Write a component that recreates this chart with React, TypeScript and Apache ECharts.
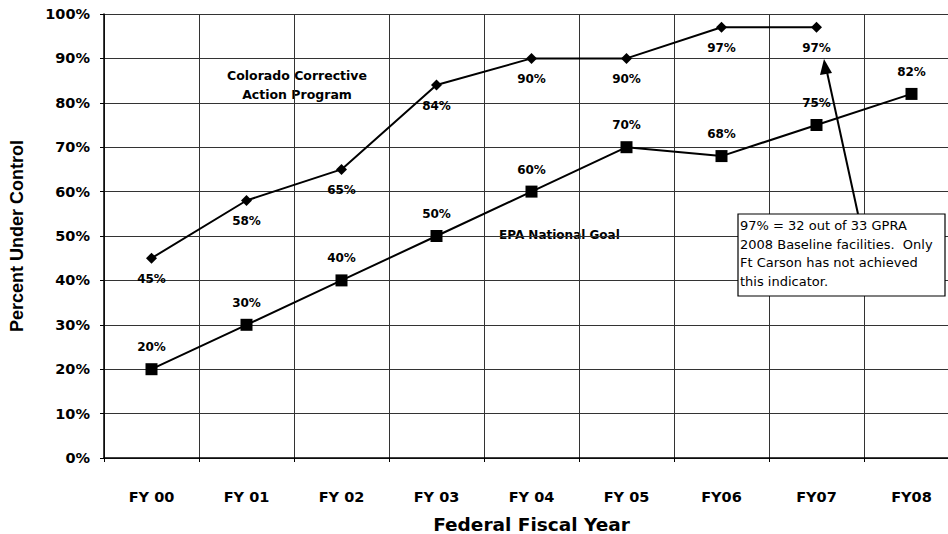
import React, { useEffect, useRef } from "react";
import * as echarts from "echarts";

const categories = ["FY 00", "FY 01", "FY 02", "FY 03", "FY 04", "FY 05", "FY06", "FY07", "FY08"];
const coloradoValues = [45, 58, 65, 84, 90, 90, 97, 97, null];
const epaValues = [20, 30, 40, 50, 60, 70, 68, 75, 82];
const yTicks = [0, 10, 20, 30, 40, 50, 60, 70, 80, 90, 100];
const noteLines = [
  "97% = 32 out of 33 GPRA",
  "2008 Baseline facilities.  Only",
  "Ft Carson has not achieved",
  "this indicator.",
];

const WIDE = "'DejaVu Sans', 'Liberation Sans', Arial, sans-serif";
const ARIAL = "'Liberation Sans', Arial, sans-serif";

export default function App() {
  const ref = useRef<HTMLDivElement>(null);
  useEffect(() => {
    if (!ref.current) return;
    const chart = echarts.init(ref.current, undefined, { renderer: "svg" });
    const labelStyle = {
      show: true,
      formatter: (p: any) => p.value + "%",
      color: "#000",
      fontFamily: WIDE,
      fontWeight: "bold" as const,
      fontSize: 12,
    };
    chart.setOption({
      animation: false,
      backgroundColor: "#fff",
      textStyle: { fontFamily: WIDE },
      grid: {
        left: 104,
        right: -11,
        top: 14,
        bottom: 76,
        containLabel: false,
        outerBoundsMode: "none",
      },
      xAxis: {
        type: "category",
        data: categories,
        boundaryGap: true,
        name: "Federal Fiscal Year",
        nameLocation: "middle",
        nameGap: 57,
        nameTextStyle: { fontFamily: WIDE, fontWeight: "bold", fontSize: 18.5, color: "#000" },
        axisLine: { lineStyle: { color: "#000", width: 1.5 } },
        axisTick: { show: true, length: 4, lineStyle: { color: "#000" } },
        axisLabel: { fontFamily: WIDE, fontWeight: "bold", fontSize: 14.5, color: "#000", margin: 31 },
        splitLine: { show: true, lineStyle: { color: "#333", width: 1 } },
      },
      yAxis: {
        type: "value",
        min: 0,
        max: 100,
        interval: 10,
        name: "Percent Under Control",
        nameLocation: "middle",
        nameGap: 78,
        nameTextStyle: { fontFamily: ARIAL, fontWeight: "bold", fontSize: 18, color: "#000" },
        axisLine: { show: true, lineStyle: { color: "#000", width: 1.5 } },
        axisTick: { show: true, length: 4, lineStyle: { color: "#000" } },
        axisLabel: {
          fontFamily: WIDE,
          fontWeight: "bold",
          fontSize: 14.5,
          color: "#000",
          margin: 14,
          formatter: (v: number) => (yTicks.includes(v) ? v + "%" : ""),
        },
        splitLine: { show: true, lineStyle: { color: "#333", width: 1 } },
      },
      series: [
        {
          name: "Colorado Corrective Action Program",
          type: "line",
          data: coloradoValues,
          symbol: "diamond",
          symbolSize: 11,
          itemStyle: { color: "#000" },
          lineStyle: { color: "#000", width: 2 },
          label: { ...labelStyle, position: "bottom", distance: 9 },
          z: 3,
        },
        {
          name: "EPA National Goal",
          type: "line",
          data: epaValues,
          symbol: "rect",
          symbolSize: 12,
          itemStyle: { color: "#000" },
          lineStyle: { color: "#000", width: 2 },
          label: { ...labelStyle, position: "top", distance: 10 },
          z: 3,
        },
      ],
      graphic: [
        {
          type: "text",
          x: 297,
          y: 66,
          style: {
            text: "Colorado Corrective\nAction Program",
            fontFamily: WIDE,
            fontWeight: "bold",
            fontSize: 12.5,
            fill: "#000",
            align: "center",
            lineHeight: 19,
            backgroundColor: "#fff",
          },
        },
        {
          type: "text",
          x: 499,
          y: 229,
          style: {
            text: "EPA National Goal",
            fontFamily: WIDE,
            fontWeight: "bold",
            fontSize: 12,
            fill: "#000",
            backgroundColor: "#fff",
          },
        },
        {
          type: "line",
          shape: { x1: 858, y1: 214, x2: 827, y2: 72 },
          style: { stroke: "#000", lineWidth: 2 },
          z: 10,
        },
        {
          type: "polygon",
          shape: { points: [[824, 59], [820, 75], [832, 73]] },
          style: { fill: "#000" },
          z: 10,
        },
        {
          type: "rect",
          shape: { x: 738, y: 214, width: 207, height: 82 },
          style: { fill: "#fff", stroke: "#000", lineWidth: 1.2 },
          z: 10,
        },
        {
          type: "text",
          x: 740,
          y: 216,
          style: {
            text: noteLines.join("\n"),
            fontFamily: WIDE,
            fontSize: 13,
            fill: "#000",
            lineHeight: 18.7,
          },
          z: 11,
        },
      ],
    });
    return () => chart.dispose();
  }, []);
  return (
    <div
      ref={ref}
      style={{ position: "fixed", left: 0, top: 0, width: 948, height: 534 }}
    />
  );
}
